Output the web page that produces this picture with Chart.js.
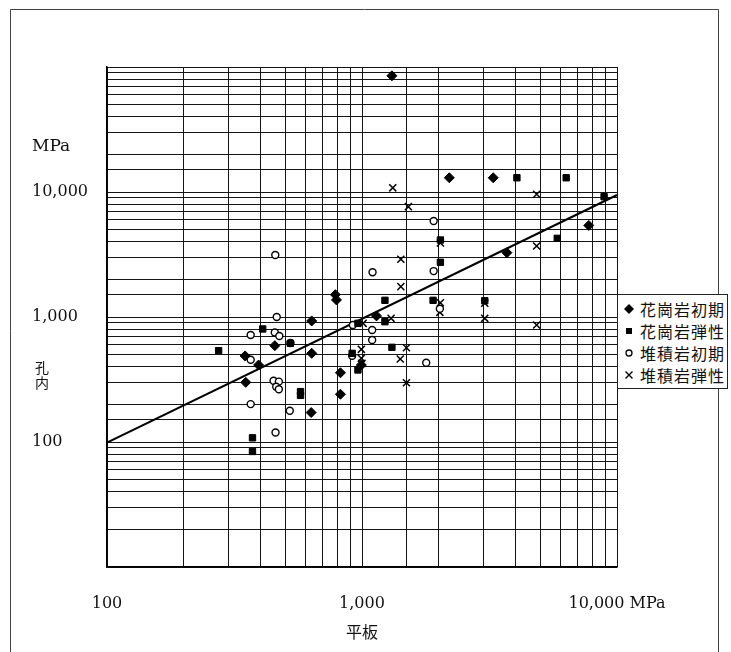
<!DOCTYPE html>
<html>
<head>
<meta charset="utf-8">
<script src="https://cdn.jsdelivr.net/npm/chart.js@4/dist/chart.umd.min.js"></script>
<style>
  html, body { margin: 0; padding: 0; background: #fff; }
  #wrap { position: relative; width: 731px; height: 652px; overflow: hidden; }
  #legend { position: absolute; left: 617px; top: 294px; width: 109px; height: 90px;
            border: 1px solid #222; background: #fff; padding-top: 3px; box-sizing: content-box; }
  .row { display: flex; align-items: center; height: 22px; }
  .sym { width: 22px; height: 22px; display: flex; align-items: center; justify-content: center; }
  .txt { font-family: "Noto Sans CJK JP", sans-serif; font-size: 16px; letter-spacing: 1px; color: #111; line-height: 22px; }
</style>
</head>
<body>
<div id="wrap">
  <canvas id="c" width="731" height="652"></canvas>
  <div id="legend"></div>
</div>
<script>
// ---- data (x: 平板 MPa, y: 孔内 MPa) ----
const seriesNames = ['花崗岩初期', '花崗岩弾性', '堆積岩初期', '堆積岩弾性'];

const graniteInitial = [
  [1310, 85000], [2200, 13000], [3270, 13000], [3700, 3270], [7750, 5400],
  [786, 1510], [794, 1370], [635, 930], [1140, 1020], [455, 590], [635, 512],
  [348, 488], [393, 413], [823, 358], [350, 300], [823, 241], [632, 172], [994, 413]
];
const graniteElastic = [
  [4050, 13000], [6320, 13000], [8900, 9170], [5830, 4260], [2030, 4130], [2030, 2740],
  [1900, 1360], [3030, 1350], [1230, 1360], [1230, 917], [964, 890], [408, 802],
  [524, 616], [274, 538], [915, 512], [1310, 572], [964, 377], [574, 253], [574, 236],
  [372, 108], [372, 84]
];
const sedimentInitial = [
  [1910, 5860], [457, 3130], [1100, 2280], [1910, 2330], [2020, 1165], [463, 1000],
  [921, 863], [1096, 787], [1096, 655], [366, 718], [455, 752], [474, 705], [524, 620],
  [366, 455], [915, 490], [450, 309], [472, 304], [461, 277], [472, 264], [366, 201],
  [521, 178], [458, 119], [1786, 431]
];
const sedimentElastic = [
  [1320, 10800], [1520, 7630], [4840, 9590], [4840, 3700], [2030, 3910], [1420, 2900],
  [1420, 1750], [2030, 1300], [2020, 1090], [3030, 1290], [3030, 976], [4840, 863],
  [1300, 976], [1010, 890], [994, 551], [1494, 568], [1413, 461], [994, 467],
  [1000, 426], [1494, 298]
];
const fitLine = [[100, 99], [10000, 9460]];

const xTickLabels = { 100: '100', 1000: '1,000', 10000: '10,000 MPa' };
const yTickLabels = { 100: '100', 1000: '1,000', 10000: '10,000' };

const toXY = arr => arr.map(p => ({ x: p[0], y: p[1] }));

const pointStyles = ['rectRot', 'rect', 'circle', 'crossRot'];
const pointRadii = [5, 4.5, 3.5, 5];
const pointFills = ['#000', '#000', '#fff', '#000'];
const pointBorders = [1, 1, 1.4, 1.5];
const seriesData = [graniteInitial, graniteElastic, sedimentInitial, sedimentElastic];

const datasets = [{
  label: 'fit', type: 'line', data: toXY(fitLine), borderColor: '#000', borderWidth: 2,
  pointRadius: 0, fill: false, tension: 0, order: 10
}];
seriesData.forEach((d, i) => {
  datasets.push({
    label: seriesNames[i], data: toXY(d), pointStyle: pointStyles[i], pointRadius: pointRadii[i],
    backgroundColor: pointFills[i], borderColor: '#000', borderWidth: pointBorders[i], order: 1
  });
});

const gridColor = '#151515';

const decor = {
  id: 'decor',
  beforeDraw(chart) {
    const ctx = chart.ctx;
    ctx.save();
    ctx.fillStyle = '#fff';
    ctx.fillRect(0, 0, chart.width, chart.height);
    ctx.strokeStyle = '#444';
    ctx.lineWidth = 1;
    ctx.beginPath();
    ctx.moveTo(10.5, 660); ctx.lineTo(10.5, 9.5); ctx.lineTo(718.5, 9.5); ctx.lineTo(718.5, 660);
    ctx.stroke();
    ctx.restore();
  },
  afterDraw(chart) {
    const ctx = chart.ctx;
    ctx.save();
    ctx.fillStyle = '#111';
    ctx.textBaseline = 'middle';
    ctx.textAlign = 'left';
    ctx.font = '17px "DejaVu Serif"';
    ctx.fillText('MPa', 32, 147);
    ctx.font = '14px "Noto Sans CJK JP"';
    ctx.textAlign = 'center';
    ctx.fillText('孔', 42, 368);
    ctx.fillText('内', 42, 383);
    ctx.restore();
  }
};

new Chart(document.getElementById('c'), {
  type: 'scatter',
  data: { datasets },
  options: {
    responsive: false,
    animation: false,
    layout: { padding: { left: 32, top: 67, right: 114, bottom: 0 } },
    plugins: { legend: { display: false }, tooltip: { enabled: false } },
    scales: {
      x: {
        type: 'logarithmic', min: 100, max: 10000, position: 'bottom',
        grid: { color: gridColor, lineWidth: 1, drawTicks: false },
        border: { color: '#000', width: 1.5 },
        ticks: {
          autoSkip: false, maxRotation: 0, minRotation: 0, padding: 27, color: '#111',
          font: { family: 'DejaVu Serif', size: 16 },
          callback: v => xTickLabels[v] || ''
        },
        title: { display: true, text: '平板', color: '#111',
                 font: { family: 'Noto Sans CJK JP', size: 16 }, padding: { top: 4, bottom: 10 } },
        afterFit: s => { s.height = 85; }
      },
      y: {
        type: 'logarithmic', min: 10, max: 100000, position: 'left',
        grid: { color: gridColor, lineWidth: 1, drawTicks: false },
        border: { color: '#000', width: 1.5 },
        ticks: {
          autoSkip: false, crossAlign: 'far', padding: 6, color: '#111',
          font: { family: 'DejaVu Serif', size: 16 },
          callback: v => yTickLabels[v] || ''
        },
        afterFit: s => { s.width = 75; }
      }
    }
  },
  plugins: [decor]
});

// ---- legend (HTML) ----
const symSvg = [
  '<svg width="12" height="12"><polygon points="6,1 11,6 6,11 1,6" fill="#000"/></svg>',
  '<svg width="12" height="12"><rect x="3" y="3" width="6" height="6" fill="#000"/></svg>',
  '<svg width="12" height="12"><circle cx="6" cy="6" r="3" fill="#fff" stroke="#000" stroke-width="1.3"/></svg>',
  '<svg width="12" height="12"><path d="M2.5 2.5 L9.5 9.5 M9.5 2.5 L2.5 9.5" stroke="#000" stroke-width="1.4"/></svg>'
];
const legend = document.getElementById('legend');
seriesNames.forEach((n, i) => {
  const row = document.createElement('div');
  row.className = 'row';
  row.innerHTML = '<span class="sym">' + symSvg[i] + '</span><span class="txt">' + n + '</span>';
  legend.appendChild(row);
});
</script>
</body>
</html>
